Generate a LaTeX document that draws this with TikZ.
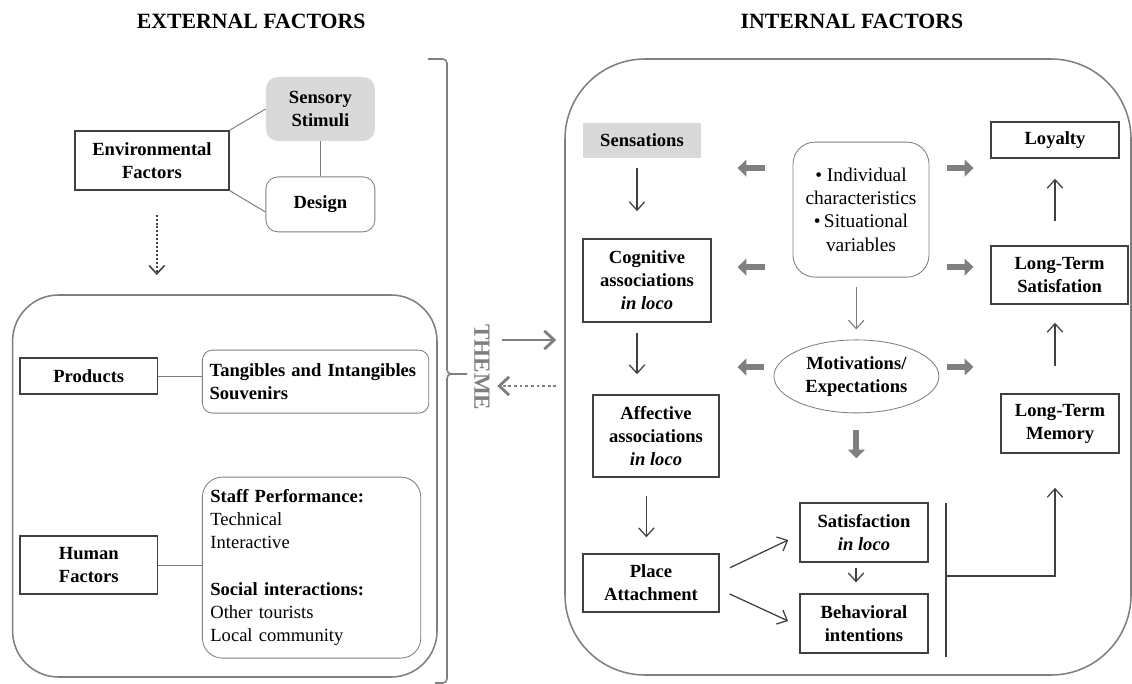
\documentclass[tikz,border=0pt]{standalone}
\usepackage{fontspec}
\setmainfont{Liberation Serif}
\usepackage{xcolor}
\usetikzlibrary{arrows.meta,shapes.geometric}
\definecolor{lineDark}{RGB}{64,64,64}
\definecolor{lineGray}{RGB}{127,127,127}
\definecolor{fillGray}{RGB}{217,217,217}

\begin{document}
\begin{tikzpicture}[
    font=\fontsize{13.2}{16.5}\selectfont,
    title/.style={font=\bfseries\fontsize{15.5}{18}\selectfont},
    factor/.style={rectangle, draw=lineDark, line width=1.1pt, font=\bfseries\fontsize{13.2}{16.5}\selectfont, align=center, inner sep=2pt},
    soft/.style={rectangle, rounded corners=0.3cm, draw=lineGray, line width=0.6pt, align=center},
    shade/.style={rectangle, fill=fillGray, font=\bfseries\fontsize{13.2}{16.5}\selectfont, align=center},
    frame/.style={rectangle, draw=lineGray, line width=1.1pt, inner sep=0pt},
    link/.style={draw=lineGray, line width=0.7pt},
    arr/.style={->, draw=lineDark, line width=0.9pt},
    fat/.style={-{Triangle[width=0.42cm,length=0.22cm]}, draw=lineGray, line width=4.2pt},
    >={Straight Barb[length=6pt,width=11pt]}
]
\useasboundingbox (0,0) rectangle (28.3,-17.1);

% Titles
\node[title] (exttitle) at (6.28,-0.53) {EXTERNAL FACTORS};
\node[title] (inttitle) at (21.3,-0.53) {INTERNAL FACTORS};

% External factors (left)
\node[factor, minimum width=3.85cm, minimum height=1.475cm] (env) at (3.8,-4.01) {Environmental\\Factors};
\node[shade, rounded corners=0.3cm, minimum width=2.725cm, minimum height=1.6cm] (sensory) at (8.01,-2.725) {Sensory\\Stimuli};
\node[soft, font=\bfseries\fontsize{13.2}{16.5}\selectfont, minimum width=2.725cm, minimum height=1.375cm] (design) at (8.01,-5.11) {Design};

\node[frame, rounded corners=1.15cm, minimum width=10.61cm, minimum height=9.55cm] (extbox) at (5.62,-12.15) {};
\node[factor, minimum width=3.44cm, minimum height=0.9cm] (products) at (2.22,-9.4) {Products};
\node[soft, rounded corners=0.25cm, font=\bfseries\fontsize{13.2}{16.5}\selectfont, align=left, text width=5.3cm, inner sep=0.18cm, minimum height=1.575cm] (tangibles) at (7.89,-9.54) {Tangibles and Intangibles\\Souvenirs};
\node[factor, minimum width=3.44cm, minimum height=1.45cm] (human) at (2.22,-14.13) {Human\\Factors};
\node[soft, rounded corners=0.5cm, align=left, text width=5.06cm, inner sep=0.2cm, minimum height=4.525cm] (staff) at (7.79,-14.19)
    {\textbf{Staff Performance:}\\Technical\\Interactive\\[16.5pt]\textbf{Social interactions:}\\Other tourists\\Local community};

\draw[link] (env.north east) -- (sensory.west);
\draw[link] (env.south east) -- ([yshift=-0.19cm]design.west);
\draw[link] (sensory) -- (design);
\draw[link] (products.east) -- (products.east -| tangibles.west);
\draw[link] (human.east) -- (human.east -| staff.west);
\draw[->, draw=lineDark, line width=1.1pt, dash pattern=on 1.4pt off 1.4pt, shorten <=0.6cm, shorten >=0.48cm] ([xshift=0.12cm]env.south) -- ([xshift=0.12cm]env.south |- extbox.north);

% Theme brace and arrows
\draw[draw=lineGray, line width=1.1pt, rounded corners=3pt] (10.7,-1.475) -- (11.175,-1.475) -- (11.175,-9.35) -- (11.675,-9.35);
\draw[draw=lineGray, line width=1.1pt, rounded corners=3pt] (11.3,-9.35) -- (11.175,-9.35) -- (11.175,-17.075) -- (10.875,-17.075);
\node[rotate=-90, text=lineGray, font=\bfseries\fontsize{16.5}{18}\selectfont] (theme) at (12.05,-9.18) {THEME};
\coordinate (themeout) at (12.55,-8.5);
\coordinate (themein) at (12.43,-9.65);

% Internal factors (right)
\node[frame, rounded corners=2cm, minimum width=14.15cm, minimum height=15.4cm] (intbox) at (21.2,-9.175) {};
\node[shade, minimum width=2.95cm, minimum height=0.875cm] (sens) at (16.05,-3.51) {Sensations};
\node[factor, minimum width=3.2cm, minimum height=2.075cm] (cog) at (16.175,-7.01) {Cognitive\\associations\\\textit{in loco}};
\node[factor, minimum width=3.15cm, minimum height=2.05cm] (aff) at (16.4,-10.9) {Affective\\associations\\\textit{in loco}};
\node[factor, minimum width=3.4cm, minimum height=1.45cm] (place) at (16.275,-14.575) {Place\\Attachment};
\node[soft, rounded corners=0.55cm, font=\fontsize{13.8}{16.7}\selectfont, minimum width=3.4cm, minimum height=3.375cm] (ind) at (21.525,-5.24) {\textbullet\ Individual\\characteristics\\\textbullet\,Situational\\variables};
\node[ellipse, draw=lineGray, line width=0.6pt, inner sep=0pt, font=\bfseries\fontsize{13.2}{16.5}\selectfont, align=center, minimum width=4.125cm, minimum height=1.825cm] (mot) at (21.41,-9.41) {Motivations/\\Expectations};
\node[factor, minimum width=3.21cm, minimum height=1.475cm] (sat) at (21.6,-13.31) {Satisfaction\\\textit{in loco}};
\node[factor, minimum width=3.21cm, minimum height=1.475cm] (beh) at (21.6,-15.59) {Behavioral\\intentions};
\node[factor, minimum width=3.2cm, minimum height=0.9cm] (loyalty) at (26.375,-3.5) {Loyalty};
\node[factor, minimum width=3.425cm, minimum height=1.45cm] (lts) at (26.49,-6.875) {Long-Term\\Satisfation};
\node[factor, minimum width=2.95cm, minimum height=1.475cm] (ltm) at (26.5,-10.59) {Long-Term\\Memory};
\coordinate (bartop) at (23.65,-12.575);
\coordinate (barbot) at (23.65,-16.425);
\coordinate (barmid) at (23.65,-14.4);

% Theme connections
\draw[-{Straight Barb[length=7pt,width=13pt]}, draw=lineGray, line width=2pt, shorten >=0.2cm] (themeout) -- (themeout -| intbox.west);
\draw[-{Straight Barb[length=7pt,width=13pt]}, draw=lineGray, line width=2pt, dash pattern=on 2pt off 2pt, shorten <=0.2cm] (themein -| intbox.west) -- (themein);

% Main flow (thin arrows)
\draw[arr, shorten <=0.25cm, shorten >=0.675cm] ([xshift=-0.125cm]sens.south) -- ([xshift=-0.125cm]sens.south |- cog.north);
\draw[arr, shorten <=0.25cm, shorten >=0.5cm] ([xshift=-0.25cm]cog.south) -- ([xshift=-0.25cm]cog.south |- aff.north);
\draw[arr, shorten <=0.45cm, shorten >=0.4cm] ([xshift=-0.24cm]aff.south) -- ([xshift=-0.24cm]aff.south |- place.north);
\draw[arr, shorten <=0.28cm, shorten >=0.3cm] ([yshift=0.26cm]place.east) -- ([yshift=-0.06cm]sat.west);
\draw[arr, shorten <=0.27cm, shorten >=0.3cm] ([yshift=-0.16cm]place.east) -- ([yshift=-0.06cm]beh.west);
\draw[arr, shorten <=0.125cm, shorten >=0.275cm] ([xshift=-0.2cm]sat.south) -- ([xshift=-0.2cm]sat.south |- beh.north);
\draw[->, draw=lineGray, line width=0.8pt, shorten <=0.225cm, shorten >=0.25cm] ([xshift=-0.12cm]ind.south) -- ([xshift=-0.12cm]ind.south |- mot.north);
\draw[arr, shorten <=0.6cm, shorten >=0.5cm] (loyalty.south |- lts.north) -- (loyalty.south);
\draw[arr, shorten <=0.675cm, shorten >=0.45cm] (loyalty.south |- ltm.north) -- (loyalty.south |- lts.south);
\draw[draw=lineDark, line width=1.1pt] (bartop) -- (barbot);
\draw[arr, shorten >=0.85cm] (barmid) -| (loyalty.south |- ltm.south);

% Influence arrows (fat)
\draw[fat] ([shift={(-0.7,1.0375)}]ind.west) -- ([shift={(-1.375,1.0375)}]ind.west);
\draw[fat] ([shift={(-0.7,-1.4375)}]ind.west) -- ([shift={(-1.375,-1.4375)}]ind.west);
\draw[fat] ([shift={(0.45,1.0375)}]ind.east) -- ([shift={(1.1,1.0375)}]ind.east);
\draw[fat] ([shift={(0.45,-1.4375)}]ind.east) -- ([shift={(1.1,-1.4375)}]ind.east);
\draw[fat] ([shift={(-0.225,0.235)}]mot.west) -- ([shift={(-0.9,0.235)}]mot.west);
\draw[fat] ([shift={(0.2,0.235)}]mot.east) -- ([shift={(0.85,0.235)}]mot.east);
\draw[fat] ([shift={(0,-0.425)}]mot.south) -- ([shift={(0,-1.125)}]mot.south);

\end{tikzpicture}
\end{document}
